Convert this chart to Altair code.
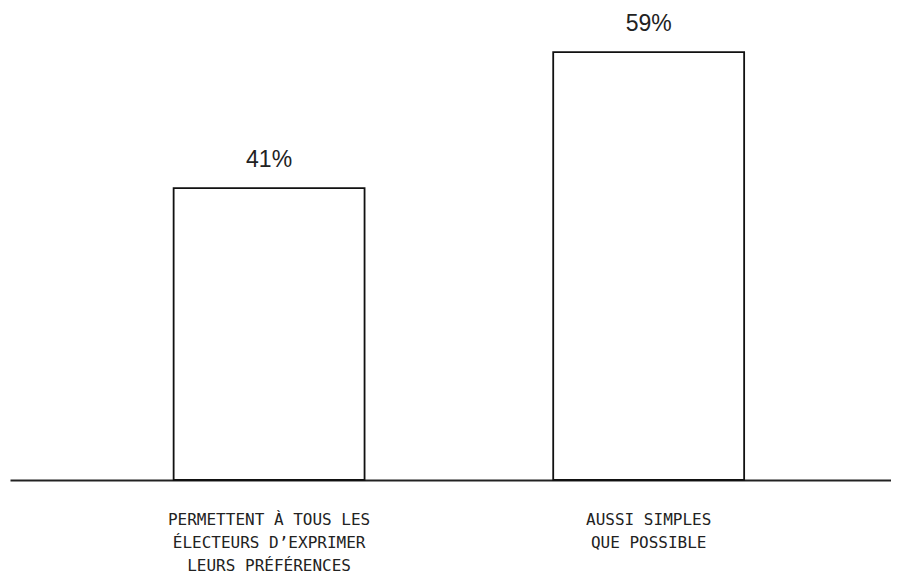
import altair as alt
import pandas as pd

categories = [
    "PERMETTENT À TOUS LES|ÉLECTEURS D’EXPRIMER|LEURS PRÉFÉRENCES",
    "AUSSI SIMPLES|QUE POSSIBLE",
]
values = [41, 59]
value_labels = ["41%", "59%"]

df = pd.DataFrame({"cat": categories, "val": values, "lab": value_labels})

x = alt.X(
    "cat:N",
    sort=categories,
    title=None,
    scale=alt.Scale(paddingInner=0.497, paddingOuter=0.409, align=0.527),
    axis=alt.Axis(
        labelAngle=0,
        labelExpr="split(datum.label, '|')",
        labelFont="DejaVu Sans Mono",
        labelFontSize=16,
        labelLineHeight=23,
        labelLimit=0,
        labelColor="#222222",
        labelBaseline="top",
        labelPadding=31,
        ticks=False,
        tickSize=0,
        domain=True,
        domainColor="#222222",
        domainWidth=2,
        grid=False,
    ),
)
y = alt.Y(
    "val:Q",
    title=None,
    scale=alt.Scale(domain=[2.36, 64.83], zero=False, clamp=True, nice=False),
    axis=None,
)

bars = alt.Chart(df).mark_bar(
    fill="white", stroke="#111111", strokeWidth=1.8
).encode(x=x, y=y, y2=alt.datum(0))

labels = alt.Chart(df).mark_text(
    font="Liberation Sans", fontSize=23, color="#222222",
    baseline="alphabetic", dy=-21
).encode(x=alt.X("cat:N", sort=categories), y=y, text="lab:N")

chart = (
    alt.layer(bars, labels)
    .properties(
        width=881,
        height=472,
        background="white",
        autosize=alt.AutoSizeParams(type="none"),
        padding={"left": 2, "top": 0, "right": 0, "bottom": 95},
    )
    .configure_view(stroke="transparent", strokeWidth=0)
)

chart.save("out.html", embed_options={"renderer": "svg", "actions": False})
